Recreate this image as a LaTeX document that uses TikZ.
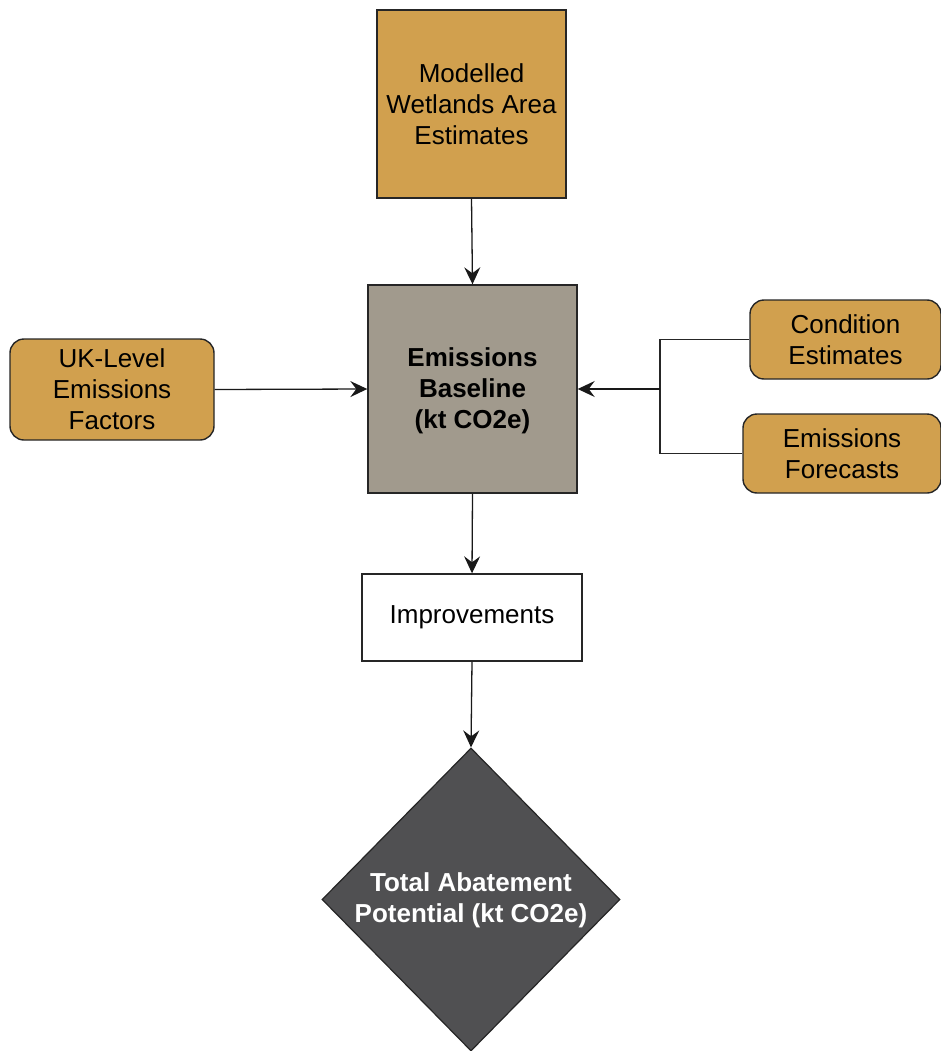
\documentclass[tikz,border=0pt]{standalone}
\usepackage{fontspec}
\setmainfont{Liberation Sans}
\usetikzlibrary{arrows.meta,shapes.geometric}
\definecolor{ochre}{RGB}{209,160,78}
\definecolor{stone}{RGB}{161,154,141}
\definecolor{slate}{RGB}{80,80,82}
\tikzset{
  x=1pt, y=1pt,
  txt/.style={font=\fontsize{26}{31}\selectfont},
  boldtxt/.style={align=center, font=\fontsize{26}{31}\selectfont\bfseries},
  box/.style={draw=black!85, line width=1.4pt, align=center, inner sep=0pt, txt},
  inputbox/.style={box, fill=ochre, rounded corners=14pt},
  flow/.style={draw=black!90, line width=1.3pt, -{Stealth[length=17pt,width=16pt,inset=6pt]}},
  plain/.style={draw=black!85, line width=1.3pt},
}
\begin{document}
\begin{tikzpicture}
\useasboundingbox (0,0) rectangle (941,-1051);
\clip (0,0) rectangle (941,-1051);

% data sources
\node[box, fill=ochre, minimum width=189pt, minimum height=188pt] (model) at (471.5,-104)
  {Modelled\\Wetlands Area\\Estimates};
\node[inputbox, minimum width=204pt, minimum height=101pt] (uk) at (112,-389.5)
  {UK-Level\\Emissions\\Factors};
\node[inputbox, minimum width=191pt, minimum height=79pt] (cond) at (845.5,-339.5)
  {Condition\\Estimates};
\node[inputbox, minimum width=198pt, minimum height=79pt] (fore) at (842,-453.5)
  {Emissions\\Forecasts};

% baseline and improvements
\node[box, fill=stone, minimum width=209pt, minimum height=208pt] (base) at (472.5,-389) {};
\node[boldtxt] (basetext) at ([yshift=-2pt]base.center)
  {Emissions\\Baseline\\(kt CO2e)};
\node[box, fill=white, minimum width=220pt, minimum height=87pt] (impr) at (472,-617.5)
  {Improvements};

% final result
\node[diamond, draw=black!85, line width=1.2pt, fill=slate, inner sep=0pt,
  minimum width=298pt, minimum height=303pt] (total) at (471,-899.5) {};
\node[boldtxt, text=white] (totaltext)
  at ([yshift=-1pt]total.center) {Total Abatement\\Potential (kt CO2e)};

% connectors
\coordinate (join) at (660,-389);
\draw[flow] (model.south) -- (base.north);
\draw[flow] (uk.east) -- (base.west);
\draw[plain] (cond.west) -| (join);
\draw[plain] (fore.west) -| (join);
\draw[flow] (join) -- (base.east);
\draw[flow] (base.south) -- (impr.north);
\draw[flow] (impr.south) -- (total.north);
\end{tikzpicture}
\end{document}
